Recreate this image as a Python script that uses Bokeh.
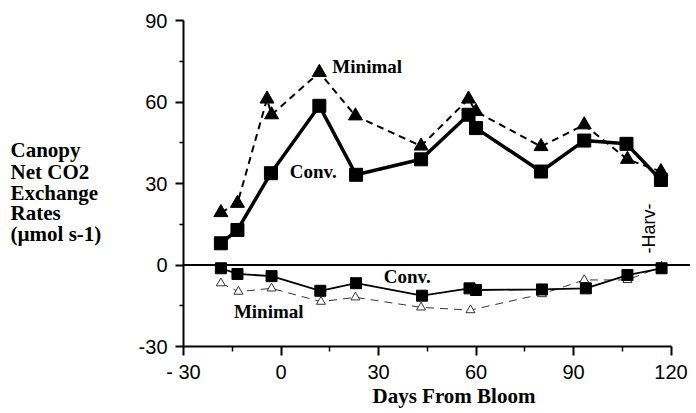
import math
from bokeh.plotting import figure
from bokeh.layouts import row
from bokeh.models import Range1d, Span, Label, FixedTicker, Title
from bokeh.embed import file_html
from bokeh.resources import INLINE

# ---- data ----
conv_days = [-18.5, -13.4, -3.1, 11.8, 23.1, 43.1, 57.7, 60.0, 80.0, 93.3, 106.3, 116.9]
conv_day = [8.0, 12.9, 33.8, 58.6, 33.2, 38.9, 55.3, 50.4, 34.4, 45.8, 44.6, 31.3]

min_days = [-18.5, -13.4, -4.3, -2.9, 11.8, 22.9, 43.1, 57.7, 60.0, 80.0, 93.3, 106.6, 116.9]
min_day = [19.3, 22.7, 61.1, 55.3, 70.9, 54.9, 43.8, 61.1, 56.5, 43.6, 51.6, 38.9, 34.4]

conv_night_days = [-18.5, -13.4, -2.9, 12.1, 23.1, 43.4, 58.0, 60.0, 80.3, 93.8, 106.6, 117.1]
conv_night = [-1.2, -3.3, -4.1, -9.5, -6.7, -11.3, -8.6, -9.2, -9.0, -8.6, -3.7, -1.2]

min_night_days = [-18.5, -13.1, -2.9, 12.3, 22.9, 43.1, 58.3, 80.3, 93.3, 106.6, 117.1]
min_night = [-6.7, -9.8, -8.6, -13.5, -11.9, -15.6, -16.6, -10.7, -5.5, -5.5, -0.6]

x_ticks = [-30, 0, 30, 60, 90, 120]
y_ticks = [-30, 0, 30, 60, 90]
y_label_lines = ["Canopy", "Net CO2", "Exchange", "Rates", "(\u00b5mol s-1)"]
x_label = "Days From Bloom"

serif = "Liberation Serif"
yr = Range1d(-30, 90)

# ---- main plot ----
p = figure(frame_width=507, frame_height=326,
           min_border_left=63, min_border_right=0,
           min_border_top=20, min_border_bottom=66,
           x_range=Range1d(-30, 126), y_range=yr,
           output_backend="svg", toolbar_location=None)
p.outline_line_color = None
p.xgrid.visible = False
p.ygrid.visible = False

xa = p.xaxis[0]
xa.ticker = FixedTicker(ticks=x_ticks, minor_ticks=[-15, 15, 45, 75, 105])
xa.bounds = (-30, 120)
xa.major_label_overrides = {-30: "- 30"}
xa.axis_line_width = 2
xa.major_tick_line_width = 2
xa.minor_tick_line_width = 1.5
xa.major_tick_in = 0
xa.major_tick_out = 9
xa.minor_tick_in = 0
xa.minor_tick_out = 5
xa.major_label_standoff = 5
xa.major_label_text_font = "Liberation Sans"
xa.major_label_text_font_size = "20px"
xa.major_label_text_color = "black"

ya = p.yaxis[0]
ya.ticker = FixedTicker(ticks=y_ticks, minor_ticks=[-15, 15, 45, 75])
ya.major_label_overrides = {-30: "-30"}
ya.axis_line_width = 2
ya.major_tick_line_width = 2
ya.minor_tick_line_width = 1.5
ya.major_tick_in = 0
ya.major_tick_out = 8
ya.minor_tick_in = 0
ya.minor_tick_out = 4
ya.major_label_standoff = 8
ya.major_label_text_font = "Liberation Sans"
ya.major_label_text_font_size = "20px"
ya.major_label_text_color = "black"

# x-axis title
p.add_layout(Title(text=x_label, align="left", offset=189, standoff=-8,
                   text_font=serif, text_font_style="bold",
                   text_font_size="21px", text_color="black"), "below")

# zero line
p.add_layout(Span(location=0, dimension="width", line_color="black", line_width=2))

# daytime series
p.line(min_days, min_day, line_color="black", line_width=2, line_dash="7 5")
p.scatter(min_days, min_day, marker="triangle", size=14, fill_color="black", line_color="black")
p.line(conv_days, conv_day, line_color="black", line_width=3.5)
p.scatter(conv_days, conv_day, marker="square", size=13, fill_color="black", line_color="black")

# night series
p.line(min_night_days, min_night, line_color="#333333", line_width=1, line_dash="8 6")
p.scatter(min_night_days, min_night, marker="triangle", size=9, fill_color="white",
          line_color="#333333", line_width=1)
p.line(conv_night_days, conv_night, line_color="black", line_width=1.8)
p.scatter(conv_night_days, conv_night, marker="square", size=11, fill_color="black", line_color="black")


def lab(fig, x, y, t, size, font=serif, style="bold", align="left", baseline="middle", angle=0.0):
    fig.add_layout(Label(x=x, y=y, text=t, text_font=font, text_font_size=size,
                         text_font_style=style, text_align=align, text_baseline=baseline,
                         text_color="black", angle=angle))

lab(p, 15.8, 73.2, "Minimal", "19px")
lab(p, 2.7, 34.5, "Conv.", "19px")
lab(p, 31.6, -4.3, "Conv.", "19px")
lab(p, -14.5, -17.0, "Minimal", "19px")
lab(p, 113.2, 13.4, "-Harv-", "18px", font="Liberation Sans", style="normal",
    align="center", angle=math.pi / 2)

# ---- left strip holding the stacked y-axis title (shares the y scale) ----
lf = figure(width=120, height=412, x_range=Range1d(0, 120), y_range=yr,
            x_axis_type=None, y_axis_type=None, min_border=0,
            min_border_top=20, min_border_bottom=66,
            output_backend="svg", toolbar_location=None)
lf.outline_line_color = None
lf.xgrid.visible = False
lf.ygrid.visible = False
y_base = [42.2, 34.2, 26.6, 19.1, 11.5]
for t, yy in zip(y_label_lines, y_base):
    lab(lf, 10, yy, t, "21px", baseline="alphabetic")

layout = row(lf, p, spacing=0)
open("out.html", "w").write(file_html(layout, INLINE))
